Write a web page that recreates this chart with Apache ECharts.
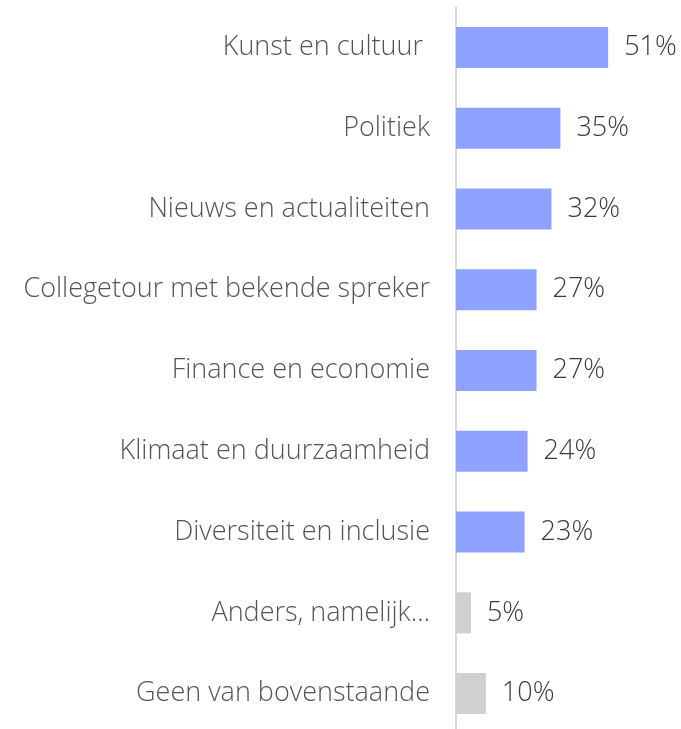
<!DOCTYPE html>
<html>
<head>
<meta charset="utf-8">
<script src="https://cdn.jsdelivr.net/npm/echarts@6/dist/echarts.min.js"></script>
<style>html,body{margin:0;padding:0;background:#fff;overflow:hidden}#c{width:681px;height:745px}</style>
</head>
<body>
<div id="c"></div>
<script>
const categories = ["Kunst en cultuur ", "Politiek", "Nieuws en actualiteiten", "Collegetour met bekende spreker", "Finance en economie", "Klimaat en duurzaamheid", "Diversiteit en inclusie", "Anders, namelijk…", "Geen van bovenstaande"];
const values = [51, 35, 32, 27, 27, 24, 23, 5, 10];
const barColors = ["#8FA2FF", "#8FA2FF", "#8FA2FF", "#8FA2FF", "#8FA2FF", "#8FA2FF", "#8FA2FF", "#D0D0D0", "#D0D0D0"];

const chart = echarts.init(document.getElementById('c'), null, {renderer: 'canvas'});
chart.setOption({
  animation: false,
  grid: {left: 456, top: 7, height: 727, width: 179, containLabel: false},
  xAxis: {type: 'value', min: 0, max: 60, show: false},
  yAxis: {
    type: 'category', data: categories, inverse: true,
    axisLine: {show: true, lineStyle: {color: '#D9D9D9', width: 2}},
    axisTick: {show: false},
    axisLabel: {margin: 26, fontFamily: 'Open Sans', fontWeight: 300, fontSize: 27, color: '#555555', padding: [3, 0, 0, 0]}
  },
  series: [{
    type: 'bar', barWidth: 41,
    data: values.map((v, i) => ({value: v, itemStyle: {color: barColors[i]}})),
    label: {show: true, position: 'right', distance: 16, formatter: '{c}%', fontFamily: 'Open Sans', fontWeight: 300, fontSize: 27, color: '#3A3A3A', padding: [3, 0, 0, 0]}
  }]
});
</script>
</body>
</html>
